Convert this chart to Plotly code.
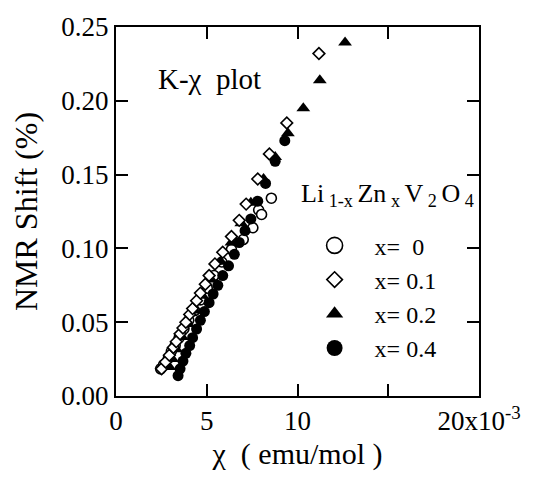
import plotly.graph_objects as go

# chi in units of 1e-3 emu/mol, NMR shift in %
chi_x0 = [2.46, 2.62, 2.89, 3.05, 3.26, 3.48, 3.74, 4.01, 4.33, 4.65, 5.03, 5.40,
          5.83, 6.36, 7.01, 7.54, 7.86, 8.02, 8.56]
k_x0 = [0.0184, 0.0211, 0.0257, 0.0303, 0.0342, 0.0395, 0.0454, 0.0513, 0.0579,
        0.0651, 0.0730, 0.0816, 0.0908, 0.0993, 0.106, 0.114, 0.126, 0.123, 0.134]

chi_x01 = [2.51, 2.73, 2.94, 3.16, 3.32, 3.53, 3.69, 3.85, 4.06, 4.22, 4.44, 4.65,
           4.92, 5.13, 5.45, 5.88, 6.36, 6.79, 7.17, 7.81, 8.45, 9.41, 11.18]
k_x01 = [0.0184, 0.0230, 0.0276, 0.0329, 0.0368, 0.0421, 0.0461, 0.0500, 0.0553,
         0.0592, 0.0645, 0.0697, 0.0757, 0.0816, 0.0895, 0.0974, 0.108, 0.119,
         0.130, 0.147, 0.164, 0.185, 0.232]

chi_x02 = [2.94, 3.10, 3.32, 3.64, 3.96, 4.33, 4.76, 5.24, 5.78, 6.36, 6.90, 7.43,
           8.13, 8.77, 9.47, 10.32, 11.23, 12.62]
k_x02 = [0.0197, 0.025, 0.0316, 0.040, 0.0487, 0.058, 0.068, 0.079, 0.091, 0.104,
         0.117, 0.131, 0.147, 0.162, 0.178, 0.195, 0.214, 0.2395]

chi_x04 = [3.42, 3.53, 3.69, 3.85, 4.06, 4.22, 4.44, 4.65, 4.87, 5.13, 5.35, 5.61,
           5.88, 6.20, 6.52, 6.79, 7.11, 7.43, 7.81, 8.24, 8.77, 9.30]
k_x04 = [0.0138, 0.0184, 0.0237, 0.0289, 0.0342, 0.0395, 0.0454, 0.0513, 0.0572,
         0.0632, 0.0691, 0.075, 0.0816, 0.0882, 0.096, 0.104, 0.112, 0.120, 0.132,
         0.144, 0.159, 0.173]

x_tick_vals = [0, 5, 10, 15, 20]
x_tick_text = ["0", "5", "10", "", "20x10<sup>-3</sup>"]
y_tick_vals = [0.00, 0.05, 0.10, 0.15, 0.20, 0.25]
y_tick_text = ["0.00", "0.05", "0.10", "0.15", "0.20", "0.25"]

legend_names = ["x=\u00a0\u00a00", "x=\u00a00.1", "x=\u00a00.2", "x=\u00a00.4"]
compound = "Li<sub>\u00a01-x\u00a0</sub>Zn<sub>\u00a0x\u00a0</sub>V<sub>\u00a02\u00a0</sub>O<sub>\u00a04</sub>"

FONT = "Liberation Serif"
to_emu = lambda vals: [v * 1e-3 for v in vals]

open_line = dict(color="black", width=1.6)
styles = {
    "x0": dict(symbol="circle", color="white", line=open_line),
    "x01": dict(symbol="diamond", color="white", line=open_line),
    "x02": dict(symbol="triangle-up", color="black", line=dict(width=0)),
    "x04": dict(symbol="circle", color="black", line=dict(width=0)),
}

fig = go.Figure()

# data markers (drawn back to front)
series = [
    ("x0", chi_x0, k_x0, 10),
    ("x04", chi_x04, k_x04, 11),
    ("x02", chi_x02, k_x02, 12),
    ("x01", chi_x01, k_x01, 9),
]
for key, xs, ys, size in series:
    fig.add_trace(go.Scatter(
        x=to_emu(xs), y=ys, mode="markers", showlegend=False,
        marker=dict(size=size, **styles[key]),
    ))

# legend entries with larger symbols
legend_sizes = {"x0": 16, "x01": 12, "x02": 15, "x04": 16}
for key, name in zip(["x0", "x01", "x02", "x04"], legend_names):
    fig.add_trace(go.Scatter(
        x=[None], y=[None], mode="markers", name=name,
        marker=dict(size=legend_sizes[key], **styles[key]),
    ))

fig.update_xaxes(
    range=[0, 0.020], tickvals=to_emu(x_tick_vals), ticktext=x_tick_text,
    title_text="\u03c7\u00a0\u00a0( emu/mol )", title_standoff=8,
    title_font=dict(family=FONT, size=30, color="black"),
    ticklabeloverflow="allow",
)
fig.update_yaxes(
    range=[0, 0.25], tickvals=y_tick_vals, ticktext=y_tick_text,
    title_text="NMR Shift (%)", title_standoff=14,
    title_font=dict(family=FONT, size=32, color="black"),
)
for upd in (fig.update_xaxes, fig.update_yaxes):
    upd(
        showline=True, linecolor="black", linewidth=2, mirror="ticks",
        ticks="inside", ticklen=12, tickwidth=1.5, tickcolor="black",
        showgrid=False, zeroline=False,
        tickfont=dict(family=FONT, size=27, color="black"),
    )

fig.update_layout(
    width=533, height=479,
    margin=dict(l=116, r=43, t=16, b=83),
    paper_bgcolor="white", plot_bgcolor="white",
    font=dict(family=FONT, color="black", size=26),
    legend=dict(
        x=0.492, y=0.468, xanchor="left", yanchor="top",
        bgcolor="rgba(0,0,0,0)",
        font=dict(family=FONT, size=24, color="black"),
        tracegroupgap=0, itemsizing="trace", itemwidth=70,
    ),
    annotations=[
        dict(
            text="K-\u03c7\u00a0\u00a0plot", xref="paper", yref="paper",
            x=0.11, y=0.86, xanchor="left", yanchor="middle", showarrow=False,
            font=dict(family=FONT, size=29, color="black"),
        ),
        dict(
            text=compound, xref="paper", yref="paper",
            x=0.505, y=0.545, xanchor="left", yanchor="middle", showarrow=False,
            font=dict(family=FONT, size=26, color="black"),
        ),
    ],
)

fig.write_html("out.html")
